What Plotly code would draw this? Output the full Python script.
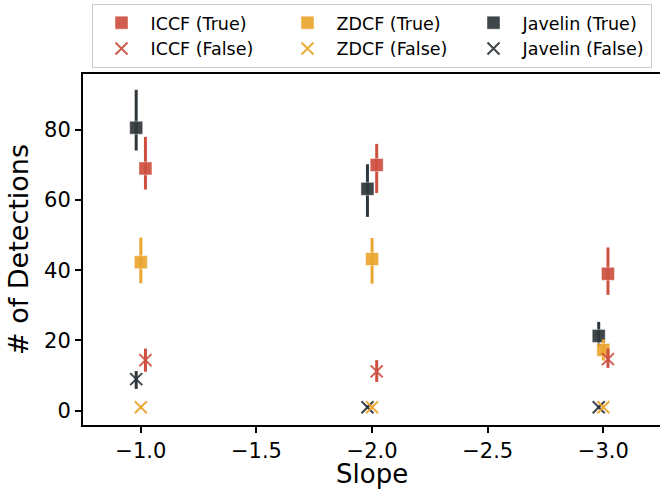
import plotly.graph_objects as go

# Power-law slopes tested
slopes = [-1.0, -2.0, -3.0]

# Number of detections per method (median, upper error, lower error)
iccf_true = [69, 70, 39]
iccf_true_up = [9, 6, 7.5]
iccf_true_lo = [6, 8, 6]

iccf_false = [14.4, 11.2, 14.7]
iccf_false_up = [3.3, 3.2, 3]
iccf_false_lo = [3.3, 3, 2.5]

zdcf_true = [42.3, 43.2, 17.3]
zdcf_true_up = [7, 6, 3]
zdcf_true_lo = [6, 7, 3]

zdcf_false = [1, 1, 1]
zdcf_false_up = [0.5, 0.5, 0.5]
zdcf_false_lo = [0.5, 0.5, 0.5]

jav_true = [80.6, 63.2, 21.3]
jav_true_up = [10.8, 7, 4]
jav_true_lo = [6.5, 8, 3]

jav_false = [9, 1, 1]
jav_false_up = [2.3, 0.5, 0.5]
jav_false_lo = [2.8, 0.5, 0.5]

colors = {"ICCF": "#cd5040", "ZDCF": "#eba630", "Javelin": "#2e373b"}
dodge = {"ICCF": -0.02, "ZDCF": 0.0, "Javelin": 0.02}
# legend laid out row by row: True row, then False row
rank = {("ICCF", True): 1, ("ZDCF", True): 2, ("Javelin", True): 3,
        ("ICCF", False): 4, ("ZDCF", False): 5, ("Javelin", False): 6}

series = [
    ("Javelin", True, jav_true, jav_true_up, jav_true_lo),
    ("Javelin", False, jav_false, jav_false_up, jav_false_lo),
    ("ZDCF", True, zdcf_true, zdcf_true_up, zdcf_true_lo),
    ("ZDCF", False, zdcf_false, zdcf_false_up, zdcf_false_lo),
    ("ICCF", True, iccf_true, iccf_true_up, iccf_true_lo),
    ("ICCF", False, iccf_false, iccf_false_up, iccf_false_lo),
]

FONT = "DejaVu Sans"
fig = go.Figure()
for method, flag, vals, up, lo in series:
    c = colors[method]
    if flag:
        marker = dict(symbol="square", size=13, color=c, opacity=0.92,
                      line=dict(width=1, color="rgba(255,255,255,0.45)"))
    else:
        marker = dict(symbol="x-thin", size=12, color=c, opacity=0.92,
                      line=dict(width=2, color=c))
    fig.add_trace(go.Scatter(
        x=[s + dodge[method] for s in slopes],
        y=vals,
        mode="markers",
        name=f"{method} ({flag})",
        legendrank=rank[(method, flag)],
        marker=marker,
        error_y=dict(type="data", symmetric=False, array=up, arrayminus=lo,
                     color=c, thickness=3, width=0),
    ))

axis_common = dict(
    showline=True, linecolor="black", linewidth=2,
    ticks="outside", ticklen=6, tickwidth=1.5, tickcolor="black",
    showgrid=False, zeroline=False,
    tickfont=dict(family=FONT, size=21, color="black"),
)

fig.update_xaxes(
    range=[-0.75, -3.245], dtick=0.5, tick0=-1.0, tickformat=".1f",
    mirror=True,
    **axis_common,
)
fig.update_yaxes(
    range=[-4.07, 95.9], tickvals=[0, 20, 40, 60, 80],
    title=dict(text="# of Detections", font=dict(family=FONT, size=27, color="black"),
               standoff=8),
    **axis_common,
)

# x-axis label placed just under the tick labels
fig.add_annotation(
    text="Slope", xref="paper", yref="paper", x=0.5, y=-0.14,
    xanchor="center", yanchor="middle", showarrow=False, borderpad=0,
    font=dict(family=FONT, size=26, color="black"),
)

fig.update_layout(
    width=660, height=490,
    margin=dict(l=83, r=0, t=74, b=65),
    plot_bgcolor="white", paper_bgcolor="white",
    font=dict(family=FONT, color="black"),
    legend=dict(
        orientation="h", x=0.5, xanchor="center", y=1.2, yanchor="top",
        font=dict(family=FONT, size=17.5, color="black"),
        bordercolor="#cccccc", borderwidth=1, bgcolor="white",
        entrywidth=123, entrywidthmode="pixels", itemwidth=48,
    ),
    showlegend=True,
)

fig.write_html("out.html")
